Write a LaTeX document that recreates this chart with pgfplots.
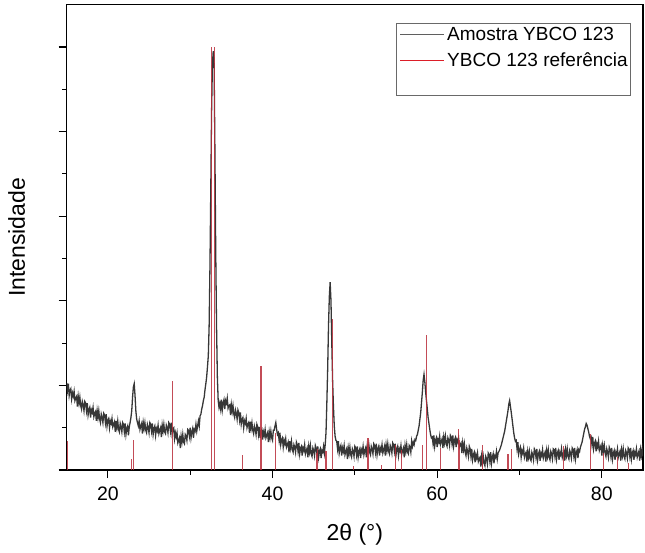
\documentclass[border=0pt]{standalone}
\usepackage{pgfplots}
\pgfplotsset{compat=1.18}
\usepackage{fontspec}
\setmainfont{Liberation Sans}

\definecolor{sampgrey}{RGB}{55,55,55}
\definecolor{legendgrey}{RGB}{95,95,95}
\definecolor{legendframe}{RGB}{105,105,105}
\definecolor{refred}{RGB}{185,45,58}
\definecolor{legendred}{RGB}{220,30,40}

\begin{document}
\begin{tikzpicture}
\begin{axis}[
  name=ax,
  scale only axis,
  width=576.3bp, height=465.3bp,
  xmin=15, xmax=85, ymin=0, ymax=5.5,
  xtick={20,40,60,80}, minor xtick={30,50,70},
  ytick={0,1,2,3,4,5}, minor ytick={0.5,1.5,2.5,3.5,4.5},
  yticklabels={},
  tick pos=left, tick align=outside,
  major tick length=8bp, minor tick length=4.5bp,
  axis line style={line width=1.2bp},
  every tick/.style={black, line width=1.2bp},
  every minor tick/.style={black, line width=1.2bp},
  /pgf/number format/assume math mode=true,
  tick label style={font=\fontsize{19.5bp}{23bp}\selectfont},
  xticklabel style={yshift=-5bp},
  xlabel={2θ (°)},
  ylabel={Intensidade},
  label style={font=\fontsize{23bp}{27bp}\selectfont},
  xlabel style={at={(axis description cs:0.5,-0.138)}, anchor=center},
  ylabel style={at={(axis description cs:-0.087,0.5)}, anchor=center},
  legend style={at={(axis description cs:0.5714,0.9613)}, anchor=north west,
    draw=legendframe, line width=0.8bp, fill=white,
    font=\fontsize{19bp}{22bp}\selectfont,
    inner xsep=3bp, inner ysep=3.3bp, row sep=12bp, column sep=2bp,
    nodes={inner sep=0bp, text height=14bp, text depth=0bp}},
  legend cell align=left,
]

% measured diffraction pattern of the sample
\addplot[sampgrey, line width=1.3bp, forget plot] coordinates {
(15.0,1.03)(15.1,0.94)(15.2,1.02)(15.3,0.88)(15.4,0.94)(15.5,0.96)(15.6,0.84)(15.7,0.91)(15.8,0.87)(15.9,0.93)
(16.0,0.82)(16.1,0.85)(16.2,0.87)(16.3,0.75)(16.4,0.87)(16.5,0.79)(16.6,0.86)(16.7,0.76)(16.8,0.72)(16.9,0.81)
(17.0,0.77)(17.1,0.70)(17.2,0.81)(17.3,0.79)(17.4,0.70)(17.5,0.79)(17.6,0.65)(17.7,0.71)(17.8,0.74)(17.9,0.62)
(18.0,0.71)(18.1,0.68)(18.2,0.74)(18.3,0.63)(18.4,0.67)(18.5,0.69)(18.6,0.58)(18.7,0.70)(18.8,0.62)(18.9,0.70)
(19.0,0.60)(19.1,0.56)(19.2,0.66)(19.3,0.62)(19.4,0.56)(19.5,0.67)(19.6,0.65)(19.7,0.56)(19.8,0.66)(19.9,0.52)
(20.0,0.59)(20.1,0.61)(20.2,0.50)(20.3,0.58)(20.4,0.55)(20.5,0.61)(20.6,0.51)(20.7,0.54)(20.8,0.57)(20.9,0.45)
(21.0,0.58)(21.1,0.50)(21.2,0.58)(21.3,0.48)(21.4,0.45)(21.5,0.55)(21.6,0.51)(21.7,0.45)(21.8,0.56)(21.9,0.54)
(22.0,0.45)(22.1,0.55)(22.2,0.42)(22.3,0.49)(22.4,0.52)(22.5,0.41)(22.6,0.51)(22.7,0.56)(22.8,0.62)(22.9,0.70)
(23.0,0.86)(23.1,0.98)(23.2,1.02)(23.3,0.88)(23.4,0.70)(23.5,0.60)(23.6,0.56)(23.7,0.52)(23.8,0.58)(23.9,0.48)
(24.0,0.52)(24.1,0.55)(24.2,0.43)(24.3,0.56)(24.4,0.49)(24.5,0.56)(24.6,0.47)(24.7,0.44)(24.8,0.54)(24.9,0.50)
(25.0,0.44)(25.1,0.56)(25.2,0.54)(25.3,0.46)(25.4,0.55)(25.5,0.42)(25.6,0.49)(25.7,0.52)(25.8,0.41)(25.9,0.49)
(26.0,0.46)(26.1,0.53)(26.2,0.43)(26.3,0.47)(26.4,0.50)(26.5,0.39)(26.6,0.53)(26.7,0.46)(26.8,0.54)(26.9,0.45)
(27.0,0.43)(27.1,0.53)(27.2,0.50)(27.3,0.44)(27.4,0.56)(27.5,0.54)(27.6,0.46)(27.7,0.56)(27.8,0.43)(27.9,0.49)
(28.0,0.50)(28.1,0.37)(28.2,0.44)(28.3,0.39)(28.4,0.44)(28.5,0.32)(28.6,0.35)(28.7,0.38)(28.8,0.26)(28.9,0.40)
(29.0,0.33)(29.1,0.42)(29.2,0.33)(29.3,0.31)(29.4,0.42)(29.5,0.40)(29.6,0.35)(29.7,0.48)(29.8,0.47)(29.9,0.40)
(30.0,0.50)(30.1,0.38)(30.2,0.45)(30.3,0.49)(30.4,0.38)(30.5,0.48)(30.6,0.46)(30.7,0.54)(30.8,0.46)(30.9,0.52)
(31.0,0.58)(31.1,0.52)(31.2,0.64)(31.3,0.66)(31.4,0.72)(31.5,0.76)(31.6,0.82)(31.7,0.86)(31.8,0.95)(31.9,1.02)
(32.0,1.10)(32.1,1.22)(32.2,1.35)(32.3,1.70)(32.4,2.40)(32.5,3.30)(32.6,4.25)(32.7,4.80)(32.8,4.95)(32.9,4.85)
(33.0,3.80)(33.1,2.60)(33.2,1.70)(33.3,1.10)(33.4,0.82)(33.5,0.74)(33.6,0.79)(33.7,0.72)(33.8,0.83)(33.9,0.71)
(34.0,0.79)(34.1,0.83)(34.2,0.72)(34.3,0.82)(34.4,0.79)(34.5,0.85)(34.6,0.73)(34.7,0.76)(34.8,0.77)(34.9,0.65)
(35.0,0.77)(35.1,0.69)(35.2,0.76)(35.3,0.66)(35.4,0.62)(35.5,0.71)(35.6,0.67)(35.7,0.60)(35.8,0.71)(35.9,0.68)
(36.0,0.59)(36.1,0.68)(36.2,0.54)(36.3,0.60)(36.4,0.62)(36.5,0.50)(36.6,0.58)(36.7,0.55)(36.8,0.61)(36.9,0.50)
(37.0,0.54)(37.1,0.56)(37.2,0.44)(37.3,0.57)(37.4,0.49)(37.5,0.56)(37.6,0.47)(37.7,0.43)(37.8,0.52)(37.9,0.48)
(38.0,0.42)(38.1,0.54)(38.2,0.51)(38.3,0.42)(38.4,0.51)(38.5,0.38)(38.6,0.46)(38.7,0.48)(38.8,0.36)(38.9,0.45)
(39.0,0.41)(39.1,0.48)(39.2,0.38)(39.3,0.41)(39.4,0.44)(39.5,0.33)(39.6,0.45)(39.7,0.38)(39.8,0.46)(39.9,0.38)
(40.0,0.35)(40.1,0.47)(40.2,0.47)(40.3,0.52)(40.4,0.56)(40.5,0.48)(40.6,0.42)(40.7,0.44)(40.8,0.35)(40.9,0.44)
(41.0,0.30)(41.1,0.36)(41.2,0.38)(41.3,0.27)(41.4,0.35)(41.5,0.31)(41.6,0.37)(41.7,0.27)(41.8,0.30)(41.9,0.33)
(42.0,0.21)(42.1,0.34)(42.2,0.26)(42.3,0.34)(42.4,0.24)(42.5,0.21)(42.6,0.30)(42.7,0.27)(42.8,0.21)(42.9,0.33)
(43.0,0.30)(43.1,0.22)(43.2,0.32)(43.3,0.19)(43.4,0.26)(43.5,0.28)(43.6,0.17)(43.7,0.26)(43.8,0.23)(43.9,0.30)
(44.0,0.19)(44.1,0.23)(44.2,0.26)(44.3,0.15)(44.4,0.28)(44.5,0.21)(44.6,0.29)(44.7,0.19)(44.8,0.16)(44.9,0.26)
(45.0,0.23)(45.1,0.17)(45.2,0.29)(45.3,0.26)(45.4,0.18)(45.5,0.28)(45.6,0.15)(45.7,0.22)(45.8,0.25)(45.9,0.14)
(46.0,0.23)(46.1,0.21)(46.2,0.28)(46.3,0.20)(46.4,0.30)(46.5,0.45)(46.6,0.80)(46.7,1.20)(46.8,1.70)(46.9,2.05)
(47.0,2.22)(47.1,2.00)(47.2,1.50)(47.3,1.05)(47.4,0.75)(47.5,0.52)(47.6,0.40)(47.7,0.35)(47.8,0.34)(47.9,0.25)
(48.0,0.34)(48.1,0.20)(48.2,0.26)(48.3,0.29)(48.4,0.17)(48.5,0.26)(48.6,0.22)(48.7,0.29)(48.8,0.18)(48.9,0.22)
(49.0,0.25)(49.1,0.13)(49.2,0.26)(49.3,0.19)(49.4,0.27)(49.5,0.18)(49.6,0.15)(49.7,0.25)(49.8,0.22)(49.9,0.16)
(50.0,0.28)(50.1,0.26)(50.2,0.18)(50.3,0.28)(50.4,0.15)(50.5,0.22)(50.6,0.25)(50.7,0.14)(50.8,0.24)(50.9,0.21)
(51.0,0.28)(51.1,0.18)(51.2,0.23)(51.3,0.26)(51.4,0.15)(51.5,0.28)(51.6,0.22)(51.7,0.30)(51.8,0.21)(51.9,0.18)
(52.0,0.28)(52.1,0.25)(52.2,0.19)(52.3,0.31)(52.4,0.29)(52.5,0.21)(52.6,0.31)(52.7,0.18)(52.8,0.25)(52.9,0.28)
(53.0,0.17)(53.1,0.26)(53.2,0.23)(53.3,0.30)(53.4,0.20)(53.5,0.24)(53.6,0.28)(53.7,0.17)(53.8,0.30)(53.9,0.23)
(54.0,0.31)(54.1,0.22)(54.2,0.19)(54.3,0.29)(54.4,0.26)(54.5,0.20)(54.6,0.32)(54.7,0.30)(54.8,0.22)(54.9,0.31)
(55.0,0.18)(55.1,0.25)(55.2,0.28)(55.3,0.17)(55.4,0.25)(55.5,0.22)(55.6,0.29)(55.7,0.19)(55.8,0.23)(55.9,0.26)
(56.0,0.15)(56.1,0.29)(56.2,0.22)(56.3,0.30)(56.4,0.21)(56.5,0.19)(56.6,0.29)(56.7,0.27)(56.8,0.21)(56.9,0.34)
(57.0,0.28)(57.1,0.33)(57.2,0.30)(57.3,0.36)(57.4,0.35)(57.5,0.40)(57.6,0.42)(57.7,0.47)(57.8,0.52)(57.9,0.60)
(58.0,0.68)(58.1,0.80)(58.2,0.92)(58.3,1.06)(58.4,1.13)(58.5,1.04)(58.6,0.92)(58.7,0.82)(58.8,0.72)(58.9,0.62)
(59.0,0.55)(59.1,0.48)(59.2,0.42)(59.3,0.38)(59.4,0.39)(59.5,0.31)(59.6,0.41)(59.7,0.28)(59.8,0.35)(59.9,0.38)
(60.0,0.27)(60.1,0.36)(60.2,0.33)(60.3,0.40)(60.4,0.30)(60.5,0.34)(60.6,0.37)(60.7,0.26)(60.8,0.39)(60.9,0.32)
(61.0,0.40)(61.1,0.31)(61.2,0.28)(61.3,0.38)(61.4,0.35)(61.5,0.29)(61.6,0.41)(61.7,0.39)(61.8,0.31)(61.9,0.41)
(62.0,0.28)(62.1,0.35)(62.2,0.38)(62.3,0.27)(62.4,0.36)(62.5,0.33)(62.6,0.38)(62.7,0.27)(62.8,0.30)(62.9,0.32)
(63.0,0.20)(63.1,0.32)(63.2,0.24)(63.3,0.31)(63.4,0.21)(63.5,0.17)(63.6,0.26)(63.7,0.22)(63.8,0.16)(63.9,0.28)
(64.0,0.25)(64.1,0.16)(64.2,0.25)(64.3,0.12)(64.4,0.18)(64.5,0.21)(64.6,0.09)(64.7,0.18)(64.8,0.14)(64.9,0.20)
(65.0,0.10)(65.1,0.13)(65.2,0.15)(65.3,0.04)(65.4,0.16)(65.5,0.08)(65.6,0.16)(65.7,0.08)(65.8,0.05)(65.9,0.16)
(66.0,0.13)(66.1,0.07)(66.2,0.20)(66.3,0.18)(66.4,0.10)(66.5,0.21)(66.6,0.08)(66.7,0.15)(66.8,0.19)(66.9,0.08)
(67.0,0.17)(67.1,0.15)(67.2,0.22)(67.3,0.13)(67.4,0.20)(67.5,0.22)(67.6,0.24)(67.7,0.27)(67.8,0.30)(67.9,0.34)
(68.0,0.38)(68.1,0.42)(68.2,0.46)(68.3,0.52)(68.4,0.58)(68.5,0.64)(68.6,0.70)(68.7,0.78)(68.8,0.82)(68.9,0.75)
(69.0,0.68)(69.1,0.60)(69.2,0.52)(69.3,0.44)(69.4,0.38)(69.5,0.34)(69.6,0.35)(69.7,0.25)(69.8,0.33)(69.9,0.19)
(70.0,0.24)(70.1,0.27)(70.2,0.15)(70.3,0.23)(70.4,0.20)(70.5,0.26)(70.6,0.15)(70.7,0.19)(70.8,0.21)(70.9,0.10)
(71.0,0.22)(71.1,0.15)(71.2,0.22)(71.3,0.13)(71.4,0.11)(71.5,0.21)(71.6,0.18)(71.7,0.12)(71.8,0.25)(71.9,0.23)
(72.0,0.15)(72.1,0.25)(72.2,0.12)(72.3,0.19)(72.4,0.22)(72.5,0.11)(72.6,0.20)(72.7,0.17)(72.8,0.24)(72.9,0.14)
(73.0,0.18)(73.1,0.21)(73.2,0.10)(73.3,0.23)(73.4,0.16)(73.5,0.24)(73.6,0.15)(73.7,0.12)(73.8,0.22)(73.9,0.19)
(74.0,0.13)(74.1,0.25)(74.2,0.24)(74.3,0.16)(74.4,0.26)(74.5,0.13)(74.6,0.20)(74.7,0.23)(74.8,0.12)(74.9,0.21)
(75.0,0.18)(75.1,0.25)(75.2,0.15)(75.3,0.19)(75.4,0.22)(75.5,0.11)(75.6,0.24)(75.7,0.17)(75.8,0.25)(75.9,0.16)
(76.0,0.13)(76.1,0.23)(76.2,0.20)(76.3,0.14)(76.4,0.26)(76.5,0.24)(76.6,0.16)(76.7,0.26)(76.8,0.13)(76.9,0.20)
(77.0,0.24)(77.1,0.14)(77.2,0.24)(77.3,0.22)(77.4,0.27)(77.5,0.30)(77.6,0.33)(77.7,0.38)(77.8,0.43)(77.9,0.48)
(78.0,0.51)(78.1,0.55)(78.2,0.53)(78.3,0.49)(78.4,0.45)(78.5,0.40)(78.6,0.37)(78.7,0.39)(78.8,0.30)(78.9,0.39)
(79.0,0.25)(79.1,0.31)(79.2,0.34)(79.3,0.22)(79.4,0.31)(79.5,0.27)(79.6,0.34)(79.7,0.23)(79.8,0.26)(79.9,0.29)
(80.0,0.17)(80.1,0.29)(80.2,0.22)(80.3,0.29)(80.4,0.20)(80.5,0.16)(80.6,0.25)(80.7,0.21)(80.8,0.15)(80.9,0.27)
(81.0,0.24)(81.1,0.16)(81.2,0.26)(81.3,0.13)(81.4,0.20)(81.5,0.23)(81.6,0.12)(81.7,0.21)(81.8,0.18)(81.9,0.25)
(82.0,0.15)(82.1,0.19)(82.2,0.22)(82.3,0.11)(82.4,0.24)(82.5,0.17)(82.6,0.25)(82.7,0.16)(82.8,0.13)(82.9,0.23)
(83.0,0.20)(83.1,0.14)(83.2,0.26)(83.3,0.24)(83.4,0.16)(83.5,0.26)(83.6,0.13)(83.7,0.20)(83.8,0.23)(83.9,0.12)
(84.0,0.21)(84.1,0.18)(84.2,0.25)(84.3,0.15)(84.4,0.19)(84.5,0.22)(84.6,0.11)(84.7,0.24)(84.8,0.17)(84.9,0.25)
(85.0,0.16)
};

% reference reflections of YBa2Cu3O7 (stick pattern)
\addplot[ycomb, refred, line width=1.1bp, opacity=0.85, forget plot] table {
15.1 0.34
22.9 0.13
23.1 0.35
27.8 1.05
32.6 5.00
32.9 5.00
36.4 0.18
38.5 0.50
38.6 1.23
40.4 0.44
45.3 0.20
45.5 0.25
46.5 0.22
47.3 1.78
49.8 0.05
51.6 0.38
53.2 0.06
54.9 0.30
55.7 0.24
58.2 0.30
58.75 1.60
60.4 0.26
62.55 0.48
62.7 0.35
65.55 0.30
68.6 0.19
69.05 0.25
75.35 0.28
78.6 0.43
80.2 0.20
81.95 0.15
83.2 0.08
};

\addlegendimage{legend image code/.code={\draw[legendgrey, line width=1.2bp] (0bp,-1bp) -- (44bp,-1bp);}}
\addlegendentry{Amostra YBCO 123}
\addlegendimage{legend image code/.code={\draw[legendred, line width=1.8bp] (0bp,-1bp) -- (44bp,-1bp);}}
\addlegendentry{YBCO 123 referência}
\addlegendimage{empty legend}
\addlegendentry{}
\end{axis}
\pgfresetboundingbox
\path ([xshift=-66.7bp,yshift=-83bp]ax.south west) rectangle ([xshift=2bp,yshift=4.7bp]ax.north east);
\end{tikzpicture}
\end{document}
